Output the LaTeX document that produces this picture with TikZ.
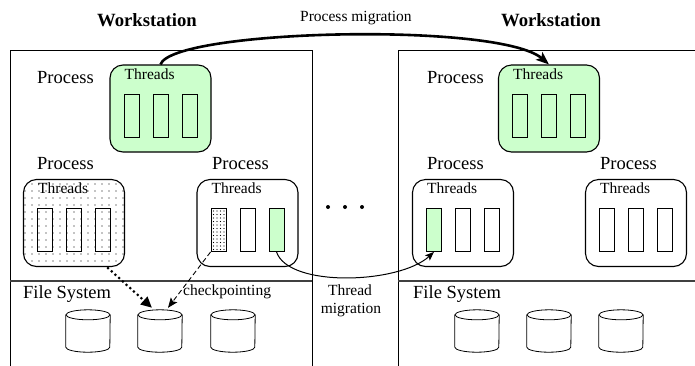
\documentclass[tikz,border=0pt]{standalone}
\usepackage{fontspec}
\setmainfont{Liberation Serif}
\usetikzlibrary{arrows.meta,patterns.meta}
\definecolor{tgreen}{HTML}{CCFFCC}
\newcommand\mycyl[3]{%
  \node[cylbox] (#1) at (#2,#3) {};
  \draw[cylline] ([yshift=-5pt]#1.north west) -- ([yshift=5pt]#1.south west)
     arc[start angle=180,end angle=360,x radius=22pt,y radius=5pt]
     -- ([yshift=-5pt]#1.north east);
  \draw[cylline] ([yshift=-5pt]#1.north) ellipse [x radius=22pt,y radius=5pt];
}
\begin{document}
\begin{tikzpicture}[x=1pt,y=-1pt,
  ws/.style={line width=0.9pt},
  divider/.style={line width=1.1pt,black!75},
  proc/.style={draw,line width=1.1pt,rounded corners=13pt,minimum width=101pt,minimum height=87pt,inner sep=0pt},
  greenproc/.style={proc,fill=tgreen},
  dotproc/.style={proc,pattern={Dots[distance=6.5pt,radius=0.7pt]}},
  thr/.style={draw,line width=0.8pt,minimum width=15pt,minimum height=43pt,inner sep=0pt},
  thrgreen/.style={thr,fill=tgreen},
  thrdot/.style={thr,pattern={Dots[distance=3.5pt,radius=0.6pt]}},
  cylbox/.style={draw=none,minimum width=44pt,minimum height=42pt,inner sep=0pt},
  cylline/.style={line width=0.8pt},
  big/.style={inner sep=0pt,font=\fontsize{18.5}{20}\selectfont},
  bigbold/.style={inner sep=0pt,font=\fontsize{18.7}{20}\selectfont\bfseries},
  small/.style={inner sep=0pt,font=\fontsize{15.5}{17}\selectfont},
  pmig/.style={line width=2.6pt,-{Stealth[length=13pt,width=10pt,inset=3pt]}},
  tmig/.style={line width=1pt,-{Stealth[length=9pt,width=7pt,inset=2pt]}},
  dotarrow/.style={line width=3pt,line cap=round,dash pattern=on 0pt off 5pt,-{Triangle[length=11pt,width=10pt]}},
  dasharrow/.style={line width=0.9pt,dash pattern=on 5pt off 3pt,-{Stealth[length=10pt,width=8pt,inset=2pt]}}
]
\useasboundingbox (0,0) rectangle (695,365);

% workstation frames
\draw[ws] (10,367) -- (10,50) -- (312,50) -- (312,367);
\draw[ws] (398,367) -- (398,50) -- (697,50);
\draw[divider] (10,281) -- (312,281);
\draw[divider] (398,281) -- (697,281);

% titles
\node[bigbold,anchor=base] (wsL) at (147,26) {Workstation};
\node[bigbold,anchor=base] (wsR) at (551,26) {Workstation};
\node[small,anchor=base west] (pmlab) at (300,21) {Process migration};

% process boxes
\node[greenproc] (LG) at (160.5,108.5) {};
\node[dotproc]   (LD) at (74,223) {};
\node[proc]      (LR) at (247.5,223) {};
\node[greenproc] (RG) at (549,108.5) {};
\node[proc]      (RL) at (463,223) {};
\node[proc]      (RR) at (636,223) {};

% process labels
\node[big,anchor=base west] (pLG) at (37,83) {Process};
\node[big,anchor=base west] (pLD) at (37,169) {Process};
\node[big,anchor=base west] (pLR) at (212,169) {Process};
\node[big,anchor=base west] (pRG) at (427,83) {Process};
\node[big,anchor=base west] (pRL) at (427,169) {Process};
\node[big,anchor=base west] (pRR) at (600,169) {Process};

% threads labels
\foreach \b in {LG,LD,LR,RG,RL,RR}{
  \node[small,anchor=base west] (t\b) at ([xshift=15pt,yshift=-15pt]\b.north west) {Threads};
}

% thread rectangles
\node[thr] (LG1) at ([xshift=-29pt,yshift=-7pt]LG.center) {};
\node[thr] (LG2) at ([yshift=-7pt]LG.center) {};
\node[thr] (LG3) at ([xshift=29pt,yshift=-7pt]LG.center) {};
\node[thr] (LD1) at ([xshift=-29pt,yshift=-7pt]LD.center) {};
\node[thr] (LD2) at ([yshift=-7pt]LD.center) {};
\node[thr] (LD3) at ([xshift=29pt,yshift=-7pt]LD.center) {};
\node[thrdot] (LR1) at ([xshift=-29pt,yshift=-7pt]LR.center) {};
\node[thr] (LR2) at ([yshift=-7pt]LR.center) {};
\node[thrgreen] (LR3) at ([xshift=29pt,yshift=-7pt]LR.center) {};
\node[thr] (RG1) at ([xshift=-29pt,yshift=-7pt]RG.center) {};
\node[thr] (RG2) at ([yshift=-7pt]RG.center) {};
\node[thr] (RG3) at ([xshift=29pt,yshift=-7pt]RG.center) {};
\node[thrgreen] (RL1) at ([xshift=-29pt,yshift=-7pt]RL.center) {};
\node[thr] (RL2) at ([yshift=-7pt]RL.center) {};
\node[thr] (RL3) at ([xshift=29pt,yshift=-7pt]RL.center) {};
\node[thr] (RR1) at ([xshift=-29pt,yshift=-7pt]RR.center) {};
\node[thr] (RR2) at ([yshift=-7pt]RR.center) {};
\node[thr] (RR3) at ([xshift=29pt,yshift=-7pt]RR.center) {};

% ellipsis dots
\fill (328,207) circle (2pt) (345,207) circle (2pt) (362,207) circle (2pt);

% file systems
\node[big,anchor=base west] (fsL) at (23,298) {File System};
\node[big,anchor=base west] (fsR) at (413,298) {File System};
\mycyl{C1}{88}{331}
\mycyl{C2}{160}{331}
\mycyl{C3}{233}{331}
\mycyl{C4}{477}{331}
\mycyl{C5}{549}{331}
\mycyl{C6}{621}{331}

% labels
\node[small,anchor=base west] (ckpt) at (183,295) {checkpointing};
\node[small,anchor=base] (tm1) at (350,295) {Thread};
\node[small,anchor=base] (tm2) at (351,313) {migration};

% connectors
\draw[pmig] (LG.north) .. controls +(12,-35) and +(-50,-43) .. (RG.north);
\draw[tmig] (LR3.south) .. controls +(12,36) and +(-35,32) .. (RL1.south);
\draw[dotarrow] ([xshift=34pt,yshift=-1pt]LD.south) -- ([xshift=-8pt,yshift=2pt]C2.north);
\draw[dasharrow] (LR1.south west) -- ([xshift=8pt,yshift=2pt]C2.north);
\end{tikzpicture}
\end{document}
